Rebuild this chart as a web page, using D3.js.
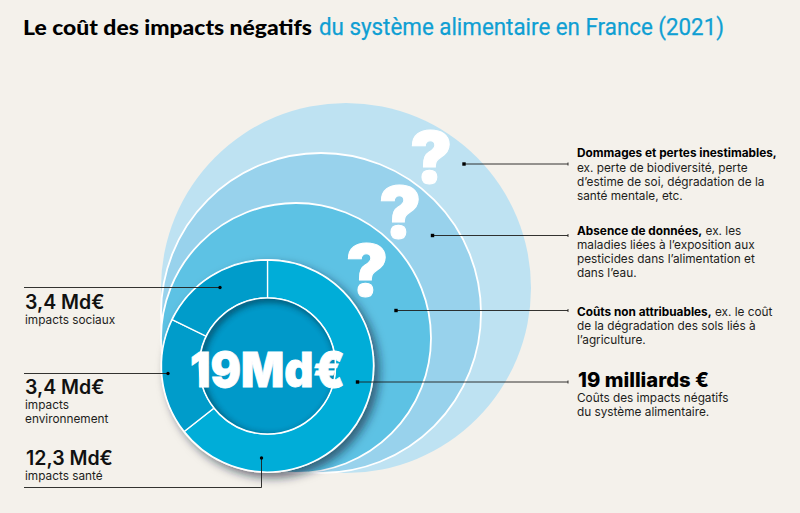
<!DOCTYPE html>
<html><head><meta charset="utf-8">
<script src="https://cdnjs.cloudflare.com/ajax/libs/d3/7.8.5/d3.min.js"></script>
<style>html,body{margin:0;padding:0;background:#f4f1eb}svg{display:block}</style>
</head><body><div id="c"></div>
<script>
const categories = ["impacts santé","impacts environnement","impacts sociaux"];
const values = [12.3,3.4,3.4];
const valueLabels = ["12,3 Md€","3,4 Md€","3,4 Md€"];
const levels = ["Dommages et pertes inestimables","Absence de données","Coûts non attribuables"];
const totalLabel = "19Md€";
const titleBlack = "Le coût des impacts négatifs";
const titleBlue = "du système alimentaire en France (2021)";

const W=800,H=513;
const svg=d3.select("#c").append("svg").attr("width",W).attr("height",H);
svg.append("rect").attr("width",W).attr("height",H).attr("fill","#f4f1eb");
const defs=svg.append("defs");
const f=defs.append("filter").attr("id","ds").attr("x","-20%").attr("y","-20%").attr("width","150%").attr("height","150%");
f.append("feDropShadow").attr("dx",5).attr("dy",5).attr("stdDeviation",5).attr("flood-color","#102030").attr("flood-opacity",.6);
const blur=defs.append("filter").attr("id","bl").attr("x","-20%").attr("y","-20%").attr("width","140%").attr("height","140%");
blur.append("feGaussianBlur").attr("stdDeviation",3.5);

const cx=267.5,cy=366,R=107,r0=68;
const left=161,bottom=473;

// nested circles
const rScale=d3.scalePoint().domain(levels).range([185,135]);
const fills=d3.scaleOrdinal().domain(levels).range(["#bee2f2","#98d2ec","#5dc2e4"]);
svg.append("g").selectAll("circle").data(levels).join("circle")
  .attr("cx",d=>left+rScale(d)).attr("cy",d=>bottom-rScale(d)).attr("r",d=>rScale(d))
  .attr("fill",d=>fills(d)).attr("stroke","#fff").attr("stroke-width",(d,i)=>i?1.8:0);

// question marks
svg.append("g").selectAll("text").data([[431,183],[400,238],[367,296]]).join("text")
  .attr("x",d=>d[0]).attr("y",d=>d[1]).attr("text-anchor","middle").attr("fill","#fff")
  .attr("stroke","#fff").attr("stroke-width",1)
  .style("font","900 71px Inter").text("?");

// donut
const g=svg.append("g").attr("transform",`translate(${cx},${cy})`);
g.append("circle").attr("r",R).attr("fill","#fff").attr("filter","url(#ds)");
const pie=d3.pie().sort(null).value(d=>d);
const arc=d3.arc().innerRadius(r0).outerRadius(R-1);
const sliceColor=d3.scaleOrdinal().domain(categories).range(["#00add8","#009cca","#009cca"]);
g.selectAll("path").data(pie(values)).join("path").attr("d",arc)
  .attr("fill",(d,i)=>sliceColor(categories[i])).attr("stroke","#fff").attr("stroke-width",1.3);
g.append("circle").attr("r",r0).attr("fill","#0099c9").attr("stroke","#fff").attr("stroke-width",1.6);
const cp=defs.append("clipPath").attr("id","inner");cp.append("circle").attr("r",r0-.8);
g.append("g").attr("clip-path","url(#inner)").append("circle")
  .attr("r",r0+2).attr("cx",2.5).attr("cy",2.5).attr("fill","none").attr("stroke","#0a2a3a").attr("stroke-width",6).attr("opacity",.75).attr("filter","url(#bl)");
svg.append("text").attr("x",cx).attr("y",387).attr("text-anchor","middle").attr("fill","#fff")
  .attr("stroke","#fff").attr("stroke-width",.8)
  .attr("textLength",155).attr("lengthAdjust","spacingAndGlyphs").style("font","900 48px Inter").text(totalLabel);

// leaders
const ink="#1d1d1b";
const line=d3.line();
const leaders=[
 {p:[[24,287.5],[220,287.5]],dot:[220,287.5]},
 {p:[[24,373.5],[168,373.5]],dot:[168,373.5]},
 {p:[[24,487.5],[261.5,487.5],[261.5,458]],dot:[261.5,458]},
 {p:[[464,164],[568,164]],dot:[464,164],end:1},
 {p:[[432.5,235.5],[568,235.5]],dot:[432.5,235.5],end:1},
 {p:[[396,310.5],[568,310.5]],dot:[396,310.5],end:1},
 {p:[[357.5,382],[568,382]],dot:[357.5,382],end:1}
];
const lg=svg.append("g");
leaders.forEach(l=>{
  lg.append("path").attr("d",line(l.p)).attr("fill","none").attr("stroke",ink).attr("stroke-width",.9);
  lg.append("rect").attr("x",l.dot[0]-1.7).attr("y",l.dot[1]-1.7).attr("width",3.4).attr("height",3.4).attr("rx",l.end?0:1.7).attr("fill","#000");
  if(l.end) lg.append("path").attr("d",line([[568,l.p[0][1]-1.5],[568,l.p[0][1]+1.5]])).attr("stroke",ink).attr("stroke-width",.9);
});

// title
svg.append("text").attr("x",23).attr("y",35).attr("textLength",289).attr("lengthAdjust","spacingAndGlyphs")
  .attr("fill","#000").style("font","900 21.5px Lato").text(titleBlack);
svg.append("text").attr("x",319).attr("y",35).attr("textLength",405).attr("lengthAdjust","spacingAndGlyphs")
  .attr("fill","#0f9fd3").attr("stroke","#0f9fd3").attr("stroke-width",.25).style("font","400 24px Roboto").text(titleBlue);

// left labels
const big="600 19.5px Inter", small="400 11.8px Inter";
const tx=(x,y,t,font,fill)=>svg.append("text").attr("x",x).attr("y",y).attr("fill",fill||"#1d1d1b").style("font",font).text(t);
tx(25,309,valueLabels[2],big,"#111");
tx(25,324,categories[2],small);
tx(25,394,valueLabels[1],big,"#111");
tx(25,409,"impacts",small);
tx(25,423,"environnement",small);
tx(26,465,valueLabels[0],big,"#111");
tx(25,480,categories[0],small);

// right labels
const bold="700 11.8px Inter";
const rl=(y,parts)=>{const t=svg.append("text").attr("x",577).attr("y",y).attr("fill","#1d1d1b").style("font",small);
  parts.forEach(p=>t.append("tspan").style("font",p[1]?bold:small).attr("fill",p[1]?"#000":"#1d1d1b").text(p[0]));};
rl(157,[[levels[0]+",",1]]);
rl(172,[["ex. perte de biodiversité, perte"]]);
rl(186,[["d’estime de soi, dégradation de la"]]);
rl(200,[["santé mentale, etc."]]);
rl(235,[[levels[1]+",",1],[" ex. les"]]);
rl(249,[["maladies liées à l’exposition aux"]]);
rl(263,[["pesticides dans l’alimentation et"]]);
rl(277,[["dans l’eau."]]);
rl(316,[[levels[2]+",",1],[" ex. le coût"]]);
rl(330,[["de la dégradation des sols liés à"]]);
rl(344,[["l’agriculture."]]);
tx(578,387,"19 milliards €","800 19.5px Inter","#000").attr("textLength",131).attr("lengthAdjust","spacingAndGlyphs");
rl(402,[["Coûts des impacts négatifs"]]);
rl(416,[["du système alimentaire."]]);
</script></body></html>
